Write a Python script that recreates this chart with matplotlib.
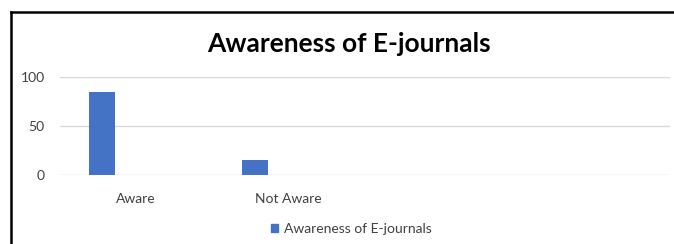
import matplotlib.pyplot as plt
from matplotlib.lines import Line2D
from matplotlib.patches import Patch

# data
categories = ["Aware", "Not Aware", "", ""]
values = [85, 15]
series_name = "Awareness of E-journals"

plt.rcParams['font.family'] = ['Lato', 'DejaVu Sans']

fig = plt.figure(figsize=(6.74, 2.44), dpi=100)
W, H = 674, 244

# axes placed to match the excel layout
ax = fig.add_axes([60 / W, (H - 175) / H, 610 / W, 98 / H])
bar_w = 26 / 153
offset = -34 / 153
xs = [i + offset for i in range(len(values))]
ax.bar(xs, values, width=bar_w, color='#4472c4', zorder=3)

ax.set_xlim(-0.5, len(categories) - 0.5)
ax.set_ylim(0, 100)
ax.set_yticks([0, 50, 100])
ax.set_xticks(range(len(categories)))
ax.set_xticklabels(categories)
ax.tick_params(axis='both', length=0, labelsize=10, colors='#404040')
ax.tick_params(axis='x', pad=13)
ax.tick_params(axis='y', pad=11)
ax.grid(axis='y', color='#d9d9d9', linewidth=1, zorder=0)
for s in ax.spines.values():
    s.set_visible(False)

fig.text(349 / W, 1 - 44 / H, "Awareness of E-journals", ha='center', va='center',
         fontsize=19, fontweight='bold', color='black')

fig.legend(handles=[Patch(color='#4472c4', label=series_name)],
           loc='center', bbox_to_anchor=(351 / W, 1 - 229 / H), frameon=False,
           fontsize=10, handlelength=0.55, handleheight=0.55, handletextpad=0.4,
           labelcolor='#404040')

# border of the chart area (cropped on the right and bottom)
fig.add_artist(Line2D([10.5 / W, 10.5 / W], [0, 1 - 12 / H], color='black', linewidth=1.8))
fig.add_artist(Line2D([10.5 / W, 1], [1 - 12 / H, 1 - 12 / H], color='black', linewidth=1.8))

fig.savefig('out.png', dpi=100)
